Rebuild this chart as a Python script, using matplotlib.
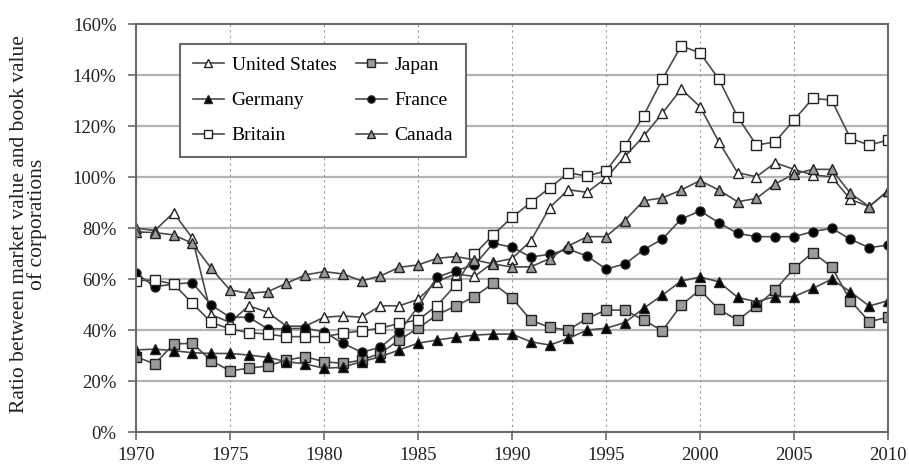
import matplotlib
matplotlib.use("Agg")
import matplotlib.pyplot as plt
import numpy as np
from matplotlib.ticker import FuncFormatter, MultipleLocator

plt.rcParams['font.family'] = ['Liberation Serif', 'DejaVu Serif']

years = list(range(1970, 2011))

# ratio of market value to book value, percent
united_states = [80, 79, 86, 76, 46, 43, 49.5, 47, 41.5, 41.5,
                 45, 45.5, 45, 49.5, 49.5, 52, 59, 62, 61, 66.5,
                 68, 75, 88, 95, 94, 99.6, 108, 116, 125, 134.5,
                 127.6, 113.8, 101.7, 100.1, 105.6, 103, 100.8, 100.1, 91.2, 88.4, 94.6]
japan = [29.5, 26.7, 34.5, 34.8, 28, 24, 25, 25.9, 28.2, 29.5,
         27.6, 26.9, 28.2, 30.9, 36.1, 40.7, 45.9, 49.4, 53.1, 58.3,
         52.6, 43.9, 41, 40, 44.6, 47.8, 47.8, 43.9, 39.7, 49.8,
         55.7, 48.1, 43.9, 49.4, 55.7, 64.2, 70.3, 64.8, 51.5, 43.3, 45]
germany = [32.2, 32.5, 31.9, 31.1, 30.8, 30.8, 30.2, 29.3, 27.6, 26.7,
           25, 25.4, 27.6, 29.5, 32.2, 34.8, 36.1, 37.1, 38, 38.4,
           38.4, 35.4, 34.1, 36.7, 40, 40.7, 42.9, 48.5, 53.7, 59.2,
           60.8, 58.9, 52.8, 51.1, 53.1, 53.1, 56.3, 59.9, 55, 49.4, 51.5]
france = [62.2, 57, 58, 58.6, 49.8, 45, 45, 40.5, 40.5, 40.7,
          39.3, 34.8, 31.3, 33.2, 39.3, 49.1, 60.7, 63.3, 65.5, 74,
          72.5, 68.6, 69.7, 71.7, 69, 63.9, 65.9, 71.4, 75.7, 83.5,
          86.7, 82.1, 77.9, 76.6, 76.6, 76.6, 78.6, 79.9, 75.6, 72.3, 73.3]
britain = [59.3, 59.6, 58, 50.5, 43, 40.4, 39, 38.4, 37.4, 37.4,
           37.4, 38.7, 39.7, 40.7, 42.6, 43.9, 49.5, 57.6, 69.7, 77.3,
           84.2, 90, 95.7, 101.6, 100.4, 102.4, 112, 124, 138.4, 151.4,
           148.7, 138.4, 123.6, 112.5, 113.8, 122.4, 130.8, 130.2, 115.2, 112.5, 114.5]
canada = [78.5, 78.2, 77.3, 74, 64.2, 55.7, 54.4, 55, 58.3, 61.6,
          62.9, 62, 59.3, 61.2, 64.6, 65.5, 68.1, 68.8, 67.5, 65.9,
          64.7, 64.8, 68, 73, 76.6, 76.6, 82.9, 90.7, 91.8, 94.9,
          98.6, 94.9, 90.3, 91.6, 97.3, 101.2, 103, 103, 93.6, 88.4, 94.6]

fig = plt.figure(figsize=(9.09, 4.67), dpi=100)
ax = fig.add_axes([0.1496, 0.0749, 0.8273, 0.8737])

line_col = '#4a4a4a'
edge = '#222222'
common = dict(color=line_col, lw=1.2, ms=6.5, mec=edge, mew=1.0)

h_us, = ax.plot(years, united_states, marker='^', mfc='white', label='United States', **common)
h_jp, = ax.plot(years, japan, marker='s', mfc='#9a9a9a', label='Japan', **common)
h_de, = ax.plot(years, germany, marker='^', mfc='black', label='Germany', **common)
h_fr, = ax.plot(years, france, marker='o', mfc='black', label='France', **common)
h_uk, = ax.plot(years, britain, marker='s', mfc='white', label='Britain', **common)
h_ca, = ax.plot(years, canada, marker='^', mfc='#9a9a9a', label='Canada', **common)

ax.set_xlim(1970, 2010)
ax.set_ylim(0, 160)
ax.xaxis.set_major_locator(MultipleLocator(5))
ax.yaxis.set_major_locator(MultipleLocator(20))
ax.yaxis.set_major_formatter(FuncFormatter(lambda v, p: '%d%%' % v))

for y in range(20, 160, 20):
    ax.axhline(y, color='#b4b4b4', lw=1.6, zorder=0)
for x in range(1975, 2010, 5):
    ax.axvline(x, color='#9a9a9a', lw=0.8, ls=(0, (2, 3)), zorder=0)

for s in ax.spines.values():
    s.set_color('#6a6a6a')
    s.set_linewidth(1.5)
ax.tick_params(direction='out', length=6, width=1.2, color='#6a6a6a',
               labelsize=13.5, labelcolor='#222222')
ax.tick_params(axis='y', pad=8)
ax.tick_params(axis='x', pad=5)

ax.set_ylabel('Ratio between market value and book value\nof corporations',
              fontsize=15.5, color='#222222', linespacing=0.9)
ax.yaxis.set_label_coords(-0.118, 0.51)

leg = ax.legend(handles=[h_us, h_de, h_uk, h_jp, h_fr, h_ca], ncol=2,
                loc='upper left', bbox_to_anchor=(0.0585, 0.951), borderaxespad=0,
                fontsize=14, frameon=True, fancybox=False, framealpha=1,
                handlelength=1.6, handletextpad=0.4, columnspacing=1.0,
                labelspacing=0.9, borderpad=0.65, markerscale=0.8)
leg.get_frame().set_edgecolor('#6a6a6a')
leg.get_frame().set_linewidth(1.5)

fig.savefig('out.png', dpi=100)
